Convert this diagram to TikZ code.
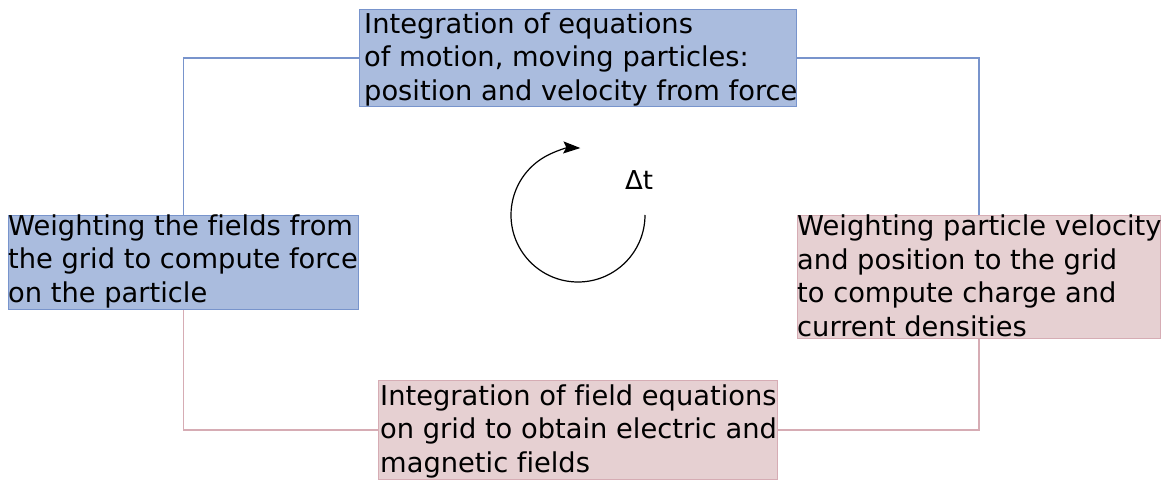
\documentclass[tikz,border=0pt]{standalone}
\usepackage{fontspec}
\setmainfont[Ligatures=NoCommon]{DejaVu Sans}
\usetikzlibrary{arrows.meta}
\definecolor{bluefill}{RGB}{170,188,222}
\definecolor{bluedraw}{RGB}{120,148,204}
\definecolor{pinkfill}{RGB}{230,208,210}
\definecolor{pinkdraw}{RGB}{214,172,180}
\tikzset{
  box/.style={draw, line width=1.3pt, anchor=north west, inner sep=0pt, minimum width=#1},
  bluebox/.style={box=#1, fill=bluefill, draw=bluedraw},
  pinkbox/.style={box=#1, fill=pinkfill, draw=pinkdraw},
  txt/.style={anchor=north west, inner sep=0pt, align=left, font=\fontsize{27.3}{33.5}\selectfont},
  blueline/.style={draw=bluedraw, line width=1.5pt},
  pinkline/.style={draw=pinkdraw, line width=1.5pt},
}
\newcommand{\fst}{\rule{0pt}{21pt}}
\begin{document}
\begin{tikzpicture}[x=1pt,y=-1pt]
\useasboundingbox (0,0) rectangle (1171,481);
% boxes
\node[bluebox=437pt, minimum height=97pt] (top) at (359,9) {};
\node[bluebox=350pt, minimum height=94pt] (left) at (8,215) {};
\node[pinkbox=363pt, minimum height=123pt] (right) at (797,215) {};
\node[pinkbox=399pt, minimum height=99pt] (bottom) at (378,380) {};
% connectors
\draw[blueline] (top.west) -| (left.north);
\draw[blueline] (top.east) -| (right.north);
\draw[pinkline] (left.south) |- (bottom.west);
\draw[pinkline] (right.south) |- (bottom.east);
% texts
\node[txt] (ttop) at (364,12) {\fst Integration of equations\\of motion, moving particles:\\position and velocity from force};
\node[txt] (tleft) at (8,214) {\fst Weighting the fields from\\the grid to compute force\\on the particle};
\node[txt, font=\fontsize{27.3}{33.8}\selectfont] (tright) at (797,214) {\fst Weighting particle velocity\\and position to the grid\\to compute charge and\\current densities};
\node[txt] (tbottom) at (380,384) {\fst Integration of field equations\\on grid to obtain electric and\\magnetic fields};
% cycle arrow
\coordinate (c0) at (645,215);
\draw[line width=1.2pt, -{Stealth[length=17pt, width=12pt, inset=3pt]}] (c0) arc[start angle=0, end angle=272, radius=67];
\node[anchor=base west, inner sep=0pt, font=\fontsize{26}{30}\selectfont] (dt) at (625,190) {Δt};
\end{tikzpicture}
\end{document}
